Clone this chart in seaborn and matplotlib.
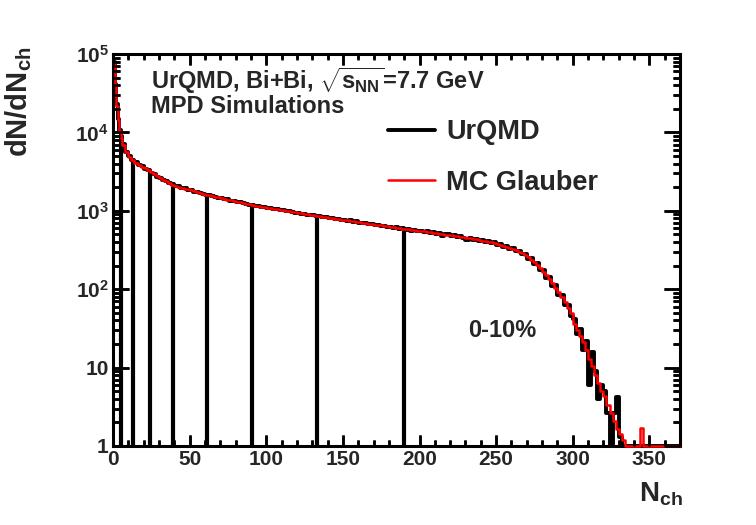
import numpy as np
import pandas as pd
import matplotlib
matplotlib.use("Agg")
import matplotlib.pyplot as plt
import matplotlib.ticker as mticker
from matplotlib.lines import Line2D
import seaborn as sns

# bin edges in N_ch: width 1 up to 6, width 2 up to 370
bin_edges = [0, 1, 2, 3, 4, 5] + list(range(6, 372, 2))

# UrQMD histogram (black)
urqmd = [
    80000, 42000, 23000, 15000, 10800, 8900,
    7050, 5550, 4950, 4380, 4150, 3850, 3700,
    3440, 3290, 3060, 2940, 2730, 2640, 2470, 2390, 2240, 2170,
    2070, 2050, 1950, 1930, 1850, 1830, 1760, 1740, 1670, 1660,
    1600, 1590, 1530, 1520, 1470, 1460, 1400, 1400, 1350, 1340,
    1300, 1285, 1240, 1235, 1190, 1185, 1150, 1140, 1115, 1115,
    1080, 1080, 1045, 1050, 1015, 1020, 985, 990, 960, 950,
    935, 915, 920, 890, 880, 880, 850, 855, 825, 835,
    805, 810, 780, 790, 760, 770, 740, 755, 720, 730,
    705, 700, 690, 670, 685, 655, 665, 640, 648, 620,
    630, 605, 615, 590, 600, 575, 585, 560, 572, 548,
    558, 535, 545, 520, 535, 505, 525, 480, 510, 500,
    470, 490, 460, 475, 455, 430, 455, 430, 435, 415,
    425, 400, 410, 385, 395, 370, 380, 345, 355, 330,
    335, 305, 310, 278, 280, 245, 250, 212, 215, 175,
    175, 140, 142, 110, 112, 85, 84, 62, 63, 45,
    42, 27, 31, 17, 22, 6, 16, 9, 4, 6,
    5, 2.6, 0, 2.6, 4.2, 1.3, 0, 0, 0, 0,
    0, 0, 0, 0, 0, 0, 0, 0, 0, 0,
    0, 0, 0, 0, 0,
]

# MC Glauber fit (red)
glauber = [
    76000, 40000, 22000, 14500, 10500, 8600,
    6920, 5620, 4900, 4420, 4120, 3890, 3670,
    3470, 3270, 3090, 2920, 2750, 2620, 2490, 2370, 2260, 2160,
    2090, 2030, 1970, 1920, 1870, 1820, 1770, 1730, 1690, 1650,
    1610, 1580, 1545, 1510, 1480, 1450, 1420, 1390, 1365, 1335,
    1310, 1280, 1255, 1230, 1205, 1180, 1160, 1145, 1125, 1110,
    1095, 1075, 1060, 1045, 1030, 1015, 1000, 984, 970, 955,
    942, 927, 914, 900, 887, 873, 861, 849, 837, 828,
    817, 805, 794, 783, 774, 764, 753, 743, 733, 724,
    714, 705, 695, 685, 678, 668, 659, 650, 641, 634,
    625, 617, 608, 600, 593, 585, 579, 573, 565, 558,
    552, 545, 538, 532, 525, 519, 512, 505, 498, 491,
    484, 478, 471, 465, 458, 452, 445, 438, 431, 424,
    417, 409, 402, 394, 387, 379, 370, 360, 349, 338,
    327, 314, 301, 286, 272, 256, 239, 222, 205, 186,
    168, 151, 135, 119, 105, 91, 79, 68, 58, 49,
    36, 30, 25, 21, 17, 13, 10.5, 8, 6.3, 5,
    4.3, 3.3, 2.6, 2.1, 1.66, 1.41, 1.2, 0, 0, 0,
    0, 0, 1.7, 0, 0, 0, 0, 0, 0, 0,
    0, 0, 0, 0, 0,
]

# centrality class boundaries and line heights
cut_positions = [5, 13, 24, 39, 61, 91, 133, 190]
cut_heights = [9300, 4420, 3200, 2160, 1600, 1170, 850, 580]

sns.set_theme(style="ticks")
plt.rcParams['font.family'] = ['Liberation Sans', 'DejaVu Sans']
plt.rcParams['font.weight'] = 'bold'
plt.rcParams['mathtext.fontset'] = 'custom'
plt.rcParams['mathtext.rm'] = 'Liberation Sans:bold'
plt.rcParams['mathtext.it'] = 'Liberation Sans:bold'
plt.rcParams['mathtext.bf'] = 'Liberation Sans:bold'
plt.rcParams['mathtext.sf'] = 'Liberation Sans:bold'

fig = plt.figure(figsize=(7.56, 5.25), dpi=100)
ax = fig.add_axes([0.1495, 0.1505, 0.75, 0.7467])

centers = [(a + b) / 2 for a, b in zip(bin_edges[:-1], bin_edges[1:])]
# empty bins are drawn on the frame bottom, like ROOT does
df = pd.DataFrame({
    "Nch": centers,
    "UrQMD": np.maximum(urqmd, 1),
    "MC Glauber": np.maximum(glauber, 1),
})

sns.histplot(data=df, x="Nch", weights="UrQMD", bins=bin_edges,
             element="step", fill=False, color="black", linewidth=2.8, ax=ax)
ax.vlines(cut_positions, 1, cut_heights, colors="black", linewidth=3)
sns.histplot(data=df, x="Nch", weights="MC Glauber", bins=bin_edges,
             element="step", fill=False, color="red", linewidth=1.8, ax=ax)
ax.lines[-1].set_clip_on(False)
ax.lines[-1].set_zorder(3)

ax.set_yscale("log")
ax.set_xlim(0, 370)
ax.set_ylim(1, 1e5)
ax.set_xlabel("")
ax.set_ylabel("")

ax.xaxis.set_major_locator(mticker.MultipleLocator(50))
ax.xaxis.set_minor_locator(mticker.MultipleLocator(10))
ax.yaxis.set_major_locator(mticker.LogLocator(base=10, numticks=10))
ax.yaxis.set_minor_locator(mticker.LogLocator(base=10, subs=np.arange(2, 10), numticks=10))
ax.yaxis.set_minor_formatter(mticker.NullFormatter())


def ylab(v, pos):
    if v < 5:
        return "1"
    if v < 50:
        return "10"
    return r"$10^{%d}$" % int(round(np.log10(v)))


ax.yaxis.set_major_formatter(mticker.FuncFormatter(ylab))

ax.tick_params(which="both", direction="in", top=True, right=True,
               bottom=True, left=True, width=1.8, color="black")
ax.tick_params(which="major", labelsize=15, pad=3)
ax.tick_params(axis="x", which="major", length=8)
ax.tick_params(axis="x", which="minor", length=4)
ax.tick_params(axis="y", which="major", length=11.5)
ax.tick_params(axis="y", which="minor", length=5)
for s in ax.spines.values():
    s.set_linewidth(2.2)
    s.set_color("black")

# ROOT-style inward ticks on all four sides, placed at the locator positions
xmaj = [v for v in ax.xaxis.get_majorticklocs() if 0 <= v <= 370]
xmin = [v for v in ax.xaxis.get_minorticklocs() if 0 <= v <= 370 and v % 50]
ymaj = [v for v in ax.yaxis.get_majorticklocs() if 1 <= v <= 1e5]
ymin = [v for v in ax.yaxis.get_minorticklocs() if 1 <= v <= 1e5]
xt = ax.get_xaxis_transform()
yt = ax.get_yaxis_transform()
tick_kw = dict(colors="black", linewidth=1.8, clip_on=False, zorder=4)
ax.vlines(xmaj, 0, 0.028, transform=xt, **tick_kw)
ax.vlines(xmaj, 0.972, 1, transform=xt, **tick_kw)
ax.vlines(xmin, 0, 0.014, transform=xt, **tick_kw)
ax.vlines(xmin, 0.986, 1, transform=xt, **tick_kw)
ax.hlines(ymaj, 0, 0.028, transform=yt, **tick_kw)
ax.hlines(ymaj, 0.972, 1, transform=yt, **tick_kw)
ax.hlines(ymin, 0, 0.0125, transform=yt, **tick_kw)
ax.hlines(ymin, 0.9875, 1, transform=yt, **tick_kw)

ax.text(0.067, 0.911, r"UrQMD, Bi+Bi, $\sqrt{s_{NN}}$=7.7 GeV", transform=ax.transAxes,
        fontsize=17, fontweight="bold", ha="left", va="baseline")
ax.text(0.067, 0.849, "MPD Simulations", transform=ax.transAxes,
        fontsize=17, fontweight="bold", ha="left", va="baseline")
ax.text(0.626, 0.278, "0-10%", transform=ax.transAxes,
        fontsize=17, fontweight="bold", ha="left", va="baseline")

handles = [Line2D([], [], color="black", linewidth=2.8),
           Line2D([], [], color="red", linewidth=1.8)]
fig.legend(handles, ["UrQMD", "MC Glauber"], loc="center left",
           bbox_to_anchor=(388 / 756, 1 - 157.5 / 525), frameon=False,
           prop={"weight": "bold", "size": 19.5}, handlelength=1.75,
           handletextpad=0.4, labelspacing=0.9, borderpad=0, borderaxespad=0)

fig.text(0.025, 1 - 47 / 525, r"dN/dN$_{ch}$", rotation=90, ha="center", va="top",
         fontsize=21, fontweight="bold")
fig.text(683 / 756, 1 - 501 / 525, r"N$_{ch}$", ha="right", va="baseline",
         fontsize=20, fontweight="bold")

fig.savefig("out.png", dpi=100)
